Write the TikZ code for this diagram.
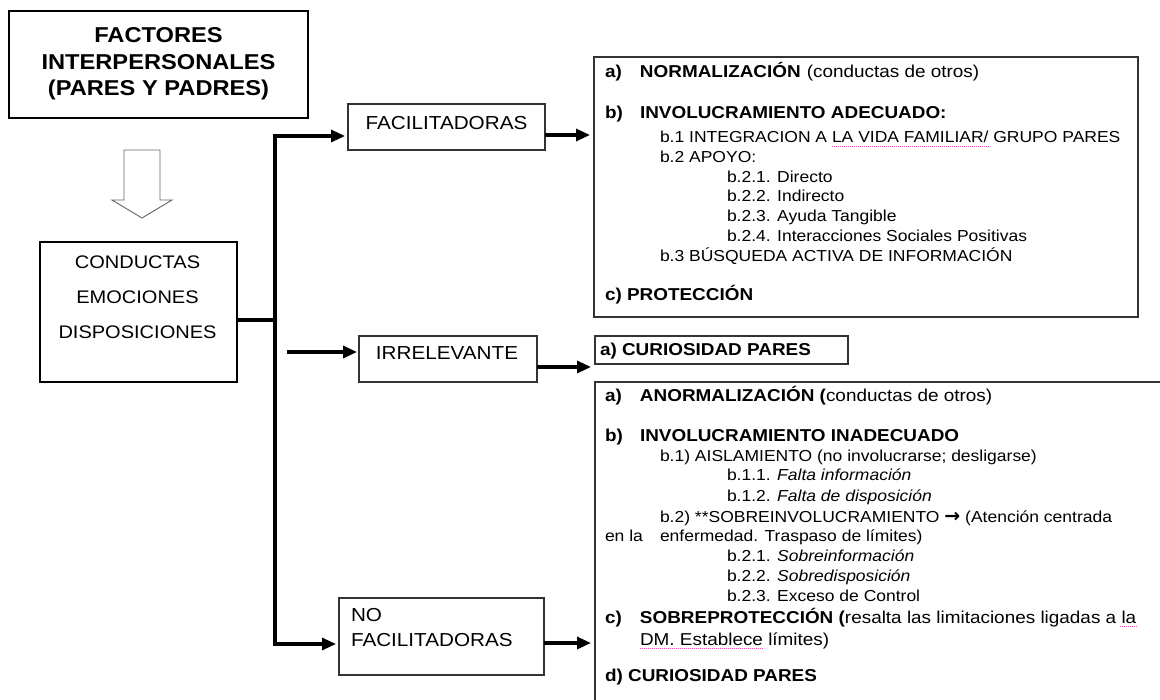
\documentclass[tikz,border=0pt]{standalone}
\usepackage{fontspec}
\setmainfont{Liberation Sans}[FakeStretch=1.1]
\newfontfamily\arrowfont{DejaVu Sans}
\usetikzlibrary{arrows.meta}

\begin{document}
\begin{tikzpicture}[x=1pt, y=-1pt,
  every node/.style={inner sep=0pt, outer sep=0pt},
  heavybox/.style={draw, line width=2.8pt, rectangle, anchor=north west},
  lightbox/.style={draw=black!80, line width=1.1pt, rectangle, anchor=north west},
  conn/.style={line width=3.2pt, line join=miter, -{Triangle[length=14pt,width=12pt]}},
  trunkline/.style={line width=3.2pt},
  hollow/.style={draw=black!60, line width=0.9pt, fill=white, line join=miter},
  titlefont/.style={font=\fontsize{21.5}{26.5}\selectfont\bfseries, align=center},
  midfont/.style={font=\fontsize{18.2}{35}\selectfont, align=center},
  catfont/.style={font=\fontsize{18.8}{24.5}\selectfont},
  ln/.style={anchor=base west, font=\fontsize{15.9}{19.6}\selectfont},
  hd/.style={anchor=base west, font=\fontsize{17.2}{19.6}\selectfont\bfseries},
  rg/.style={anchor=base west, font=\fontsize{17.2}{19.6}\selectfont},
  squiggle/.style={magenta!70, line width=0.8pt, dash pattern=on 0.8pt off 1.2pt}]

\useasboundingbox (0,0) rectangle (1160,700);
\clip (0,0) rectangle (1160,700);
\fill[white] (0,0) rectangle (1160,700);

% ---- left column ----
\node[heavybox, minimum width=299pt, minimum height=107pt] (title) at (9,11) {};
\node[titlefont] (titletxt) at (158.5,64) {FACTORES\\INTERPERSONALES\\(PARES Y PADRES)};

\node[heavybox, minimum width=197pt, minimum height=140pt] (cond) at (40,242) {};
\node[midfont] (condtxt) at (137.5,297.5) {CONDUCTAS\\EMOCIONES\\DISPOSICIONES};

% hollow arrow from the title to the behaviours box
\coordinate (ha) at (142,150);
\coordinate (hb) at (142,218);
\draw[hollow] (ha) ++(-18,0) -- ++(0,50) -- ++(-12,0) -- (hb)
  -- ++(30,-18) -- ++(-12,0) -- ++(0,-50) -- cycle;

% ---- category boxes ----
\node[lightbox, minimum width=197pt, minimum height=46pt] (fac) at (348,104) {};
\node[catfont] (factxt) at (446.5,123) {FACILITADORAS};

\node[lightbox, minimum width=178pt, minimum height=46pt] (irr) at (359,336) {};
\node[catfont] (irrtxt) at (447,353) {IRRELEVANTE};

\node[lightbox, minimum width=205pt, minimum height=77pt] (nofac) at (339,598) {};
\node[catfont, align=left, anchor=north west] (nofactxt) at (351,608.7) {NO\\FACILITADORAS};

% ---- branching connectors ----
\coordinate (tt) at (275,136);
\coordinate (tm) at (275,320);
\coordinate (tb) at (275,644);
\coordinate (ia) at (287,352);
\draw[trunkline] (cond.east |- tm) -- (tm);
\draw[conn, shorten >=3pt] (tb) -- (tt) -- (fac.west |- tt);
\draw[conn, shorten >=3pt] (tt) -- (tb) -- (nofac.west |- tb);
\draw[conn, shorten >=2pt] (ia) -- (irr.west |- ia);

% ---- detail boxes ----
\node[lightbox, minimum width=544pt, minimum height=260pt] (facbox) at (594,57) {};
\node[lightbox, minimum width=253pt, minimum height=28pt] (irrbox) at (595,336) {};
\node[lightbox, minimum width=620pt, minimum height=420pt] (nofacbox) at (595,382) {};

\coordinate (ya) at (0,135);
\coordinate (yb) at (0,367);
\coordinate (yc) at (0,643);
\draw[conn, shorten >=4pt] (fac.east |- ya) -- (facbox.west |- ya);
\draw[conn, shorten >=4pt] (irr.east |- yb) -- (irrbox.west |- yb);
\draw[conn, shorten >=4pt] (nofac.east |- yc) -- (nofacbox.west |- yc);

% ---- facilitating behaviours ----
\node[hd] (fa) at (605,78) {\makebox[35pt][l]{a)}NORMALIZACIÓN\hspace{6pt}\textmd{(conductas de otros)}};
\node[hd] (fb) at (605,119) {\makebox[35pt][l]{b)}INVOLUCRAMIENTO ADECUADO:};
\node[ln] (fb1) at (660,143) {b.1 INTEGRACION A LA VIDA FAMILIAR/ GRUPO PARES};
\node[ln] (fb2) at (660,163) {b.2 APOYO:};
\node[ln] (fb21) at (727,183) {b.2.1. Directo};
\node[ln] (fb22) at (727,202) {b.2.2. Indirecto};
\node[ln] (fb23) at (727,222) {b.2.3. Ayuda Tangible};
\node[ln] (fb24) at (727,242) {b.2.4. Interacciones Sociales Positivas};
\node[ln] (fb3) at (660,262) {b.3 BÚSQUEDA ACTIVA DE INFORMACIÓN};
\node[hd] (fc) at (605,301) {c) PROTECCIÓN};
\draw[squiggle] (832,146) -- (989,146);

% ---- irrelevant ----
\node[hd] (ira) at (600,356) {a) CURIOSIDAD PARES};

% ---- non-facilitating behaviours ----
\node[hd] (na) at (605,402) {\makebox[35pt][l]{a)}ANORMALIZACIÓN (\textmd{conductas de otros)}};
\node[hd] (nb) at (605,442) {\makebox[35pt][l]{b)}INVOLUCRAMIENTO INADECUADO};
\node[ln] (nb1) at (660,462) {b.1) AISLAMIENTO (no involucrarse; desligarse)};
\node[ln] (nb11) at (727,481) {b.1.1. \textit{Falta información}};
\node[ln] (nb12) at (727,501) {b.1.2. \textit{Falta de disposición}};
\node[ln] (nb2) at (660,522) {b.2) **SOBREINVOLUCRAMIENTO {\arrowfont\bfseries\fontsize{19}{19}\selectfont →} (Atención centrada};
\node[ln] (nenla) at (605,541) {en la};
\node[ln] (nenf) at (660,541) {enfermedad. Traspaso de límites)};
\node[ln] (nb21) at (727,561) {b.2.1. \textit{Sobreinformación}};
\node[ln] (nb22) at (727,581) {b.2.2. \textit{Sobredisposición}};
\node[ln] (nb23) at (727,601) {b.2.3. Exceso de Control};
\node[hd] (nc) at (605,623) {\makebox[35pt][l]{c)}SOBREPROTECCIÓN (\textmd{resalta las limitaciones ligadas a la}};
\node[rg] (ncc) at (640,645) {DM. Establece límites)};
\node[hd] (nd) at (605,681) {d) CURIOSIDAD PARES};
\draw[squiggle] (1120,626) -- (1137,626);
\draw[squiggle] (640,648) -- (763,648);

\end{tikzpicture}
\end{document}
